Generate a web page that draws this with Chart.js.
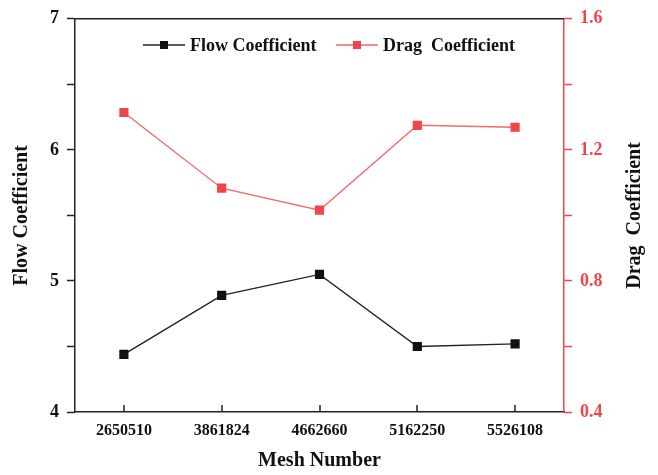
<!DOCTYPE html>
<html>
<head>
<meta charset="utf-8">
<script src="https://cdn.jsdelivr.net/npm/chart.js@4.4.1/dist/chart.umd.min.js"></script>
<style>
  html, body { margin: 0; padding: 0; background: #fff; }
  #wrap { width: 658px; height: 475px; }
</style>
</head>
<body>
<div id="wrap"><canvas id="myChart"></canvas></div>
<script>
// data
var meshNumbers = ['2650510', '3861824', '4662660', '5162250', '5526108'];
var flowCoef = [4.44, 4.89, 5.05, 4.50, 4.52];
var dragCoef = [1.314, 1.083, 1.016, 1.275, 1.269];

var RED = '#f2454a';
var serif = '"Liberation Serif", "Times New Roman", serif';

// legend drawn inside the plot (line + square), top frame, inward x ticks, right title reading upward
var innerLegend = {
    id: 'innerLegend',
    afterDraw: function(chart) {
        var ctx = chart.ctx, area = chart.chartArea;
        ctx.save();
        ctx.strokeStyle = '#222';
        ctx.lineWidth = 1.5;
        ctx.beginPath();
        ctx.moveTo(area.left, area.top);
        ctx.lineTo(area.right, area.top);
        // x ticks point up into the plot
        var xs = chart.scales.x;
        xs.ticks.forEach(function(t, i) {
            var px = Math.round(xs.getPixelForTick(i));
            ctx.moveTo(px, area.bottom);
            ctx.lineTo(px, area.bottom - 7);
        });
        ctx.stroke();

        var items = [
            {ds: chart.data.datasets[0], x: 143},
            {ds: chart.data.datasets[1], x: 336}
        ];
        var y = 45;
        ctx.font = 'bold 18px ' + serif;
        ctx.textBaseline = 'middle';
        items.forEach(function(it) {
            ctx.strokeStyle = it.ds.borderColor;
            ctx.lineWidth = 1.5;
            ctx.beginPath();
            ctx.moveTo(it.x, y);
            ctx.lineTo(it.x + 42, y);
            ctx.stroke();
            ctx.fillStyle = it.ds.pointBackgroundColor;
            ctx.fillRect(it.x + 17, y - 4, 8, 8);
            ctx.fillStyle = '#111';
            ctx.fillText(it.ds.label, it.x + 47, y + 1);
        });

        ctx.translate(635, (area.top + area.bottom) / 2);
        ctx.rotate(-Math.PI / 2);
        ctx.font = 'bold 20px ' + serif;
        ctx.textAlign = 'center';
        ctx.fillStyle = '#111';
        ctx.fillText('Drag  Coefficient', 0, 0);
        ctx.restore();
    }
};

var ctx = document.getElementById('myChart').getContext('2d');
var myChart = new Chart(ctx, {
    type: 'line',
    data: {
        labels: meshNumbers,
        datasets: [{
            label: 'Flow Coefficient',
            data: flowCoef,
            yAxisID: 'y',
            borderColor: '#222',
            pointBackgroundColor: '#111',
            pointBorderColor: '#111',
            borderWidth: 1.4,
            pointStyle: 'rect',
            pointRadius: 5.5,
            tension: 0
        }, {
            label: 'Drag  Coefficient',
            data: dragCoef,
            yAxisID: 'y1',
            borderColor: '#f56a6a',
            pointBackgroundColor: RED,
            pointBorderColor: RED,
            borderWidth: 1.4,
            pointStyle: 'rect',
            pointRadius: 5.5,
            tension: 0
        }]
    },
    options: {
        responsive: true,
        maintainAspectRatio: false,
        animation: false,
        layout: { padding: { top: 17, left: 0, right: 0, bottom: 0 } },
        plugins: {
            legend: { display: false },
            tooltip: { enabled: false }
        },
        scales: {
            x: {
                offset: true,
                grid: { drawOnChartArea: false, drawTicks: false },
                border: { color: '#222', width: 1.5 },
                ticks: { color: '#111', padding: 9, maxRotation: 0, font: { family: serif, size: 16, weight: 'bold' } },
                title: { display: true, text: 'Mesh Number', color: '#111', padding: { top: 4, bottom: 2 }, font: { family: serif, size: 20, weight: 'bold' } },
                afterFit: function(s) { s.height = 63; }
            },
            y: {
                position: 'left',
                min: 4, max: 7,
                ticks: {
                    stepSize: 0.5,
                    color: '#111',
                    padding: 8,
                    font: { family: serif, size: 18, weight: 'bold' },
                    callback: function(v) { return Number.isInteger(v) ? v : ''; }
                },
                grid: { drawOnChartArea: false, drawTicks: true, tickLength: 8, color: '#222', tickWidth: 1.5 },
                border: { color: '#222', width: 1.5 },
                title: { display: true, text: 'Flow Coefficient', color: '#111', padding: { top: 10, bottom: 0 }, font: { family: serif, size: 20, weight: 'bold' } },
                afterFit: function(s) { s.width = 75; }
            },
            y1: {
                position: 'right',
                min: 0.4, max: 1.6,
                ticks: {
                    stepSize: 0.2,
                    color: RED,
                    padding: 8,
                    font: { family: serif, size: 18, weight: 'bold' },
                    callback: function(v) {
                        var r = v / 0.4;
                        return Math.abs(r - Math.round(r)) < 1e-6 ? v.toFixed(1) : '';
                    }
                },
                grid: { drawOnChartArea: false, drawTicks: true, tickLength: 8, color: RED, tickWidth: 1.5 },
                border: { color: RED, width: 1.5 },
                afterFit: function(s) { s.width = 94; }
            }
        }
    },
    plugins: [innerLegend]
});
</script>
</body>
</html>
